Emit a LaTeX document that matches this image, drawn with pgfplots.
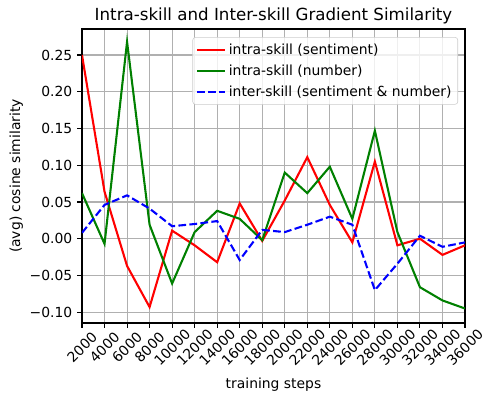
\documentclass[border=0pt]{standalone}
\usepackage{fontspec}
\setmainfont{DejaVu Sans}
\usepackage{pgfplots}
\pgfplotsset{compat=1.18}

\pgfplotstableread{
step   sent    num     inter
2000   0.250   0.062   0.008
4000   0.064  -0.007   0.046
6000  -0.037   0.268   0.059
8000  -0.093   0.019   0.041
10000  0.011  -0.061   0.017
12000 -0.009   0.009   0.020
14000 -0.032   0.038   0.024
16000  0.048   0.027  -0.029
18000 -0.003  -0.002   0.012
20000  0.052   0.090   0.009
22000  0.111   0.062   0.019
24000  0.046   0.098   0.030
26000 -0.005   0.027   0.019
28000  0.105   0.147  -0.070
30000 -0.009   0.009  -0.034
32000  0.000  -0.066   0.004
34000 -0.022  -0.084  -0.011
36000 -0.009  -0.095  -0.005
}\gradsim

\definecolor{gridgray}{HTML}{B0B0B0}
\definecolor{legedge}{HTML}{CCCCCC}

\begin{document}
\begin{tikzpicture}
% page = 488x397 px, 1px = 0.72pt
\useasboundingbox (-59.04pt,-53.28pt) rectangle (292.32pt,232.56pt);
\begin{axis}[
  scale only axis,
  width=275.76pt, height=211.68pt,
  xmin=2000, xmax=36000,
  ymin=-0.1147, ymax=0.2854,
  xtick={2000,4000,...,36000},
  ytick={-0.10,-0.05,0,0.05,0.10,0.15,0.20,0.25},
  yticklabels={−0.10,−0.05,0.00,0.05,0.10,0.15,0.20,0.25},
  scaled x ticks=false,
  xticklabel style={/pgf/number format/1000 sep={}, /pgf/number format/assume math mode=true,
    yshift=-14pt, rotate=45, anchor=center, font=\fontsize{10}{12}\selectfont},
  yticklabel style={font=\fontsize{10}{12}\selectfont},
  tick pos=left, tick align=outside,
  major tick length=3.5pt,
  tick style={black, line width=0.8pt},
  axis line style={line width=0.8pt},
  grid=major, grid style={gridgray, line width=0.8pt},
  title={Intra-skill and Inter-skill Gradient Similarity},
  title style={font=\fontsize{12}{14}\selectfont, yshift=-6pt},
  xlabel={training steps},
  ylabel={(avg) cosine similarity},
  label style={font=\fontsize{10}{12}\selectfont},
  xlabel style={yshift=0pt},
  ylabel style={yshift=-2pt},
  legend style={at={(1,1)}, anchor=north east, xshift=-5pt, yshift=-5.8pt,
    draw=legedge, rounded corners=2pt, fill=white, fill opacity=0.8, text opacity=1,
    font=\fontsize{10}{12}\selectfont, row sep=2pt, inner sep=2.5pt},
  legend cell align=left,
  legend image code/.code={\draw[#1] (0pt,0pt) -- (20pt,0pt);},
]
\addplot[red, line width=1.5pt] table[x=step, y=sent] {\gradsim};
\addlegendentry{intra-skill (sentiment)}
\addplot[black!50!green, line width=1.5pt] table[x=step, y=num] {\gradsim};
\addlegendentry{intra-skill (number)}
\addplot[blue, line width=1.5pt, dash pattern=on 5.55pt off 2.4pt] table[x=step, y=inter] {\gradsim};
\addlegendentry{inter-skill (sentiment \& number)}
\end{axis}
\end{tikzpicture}
\end{document}
